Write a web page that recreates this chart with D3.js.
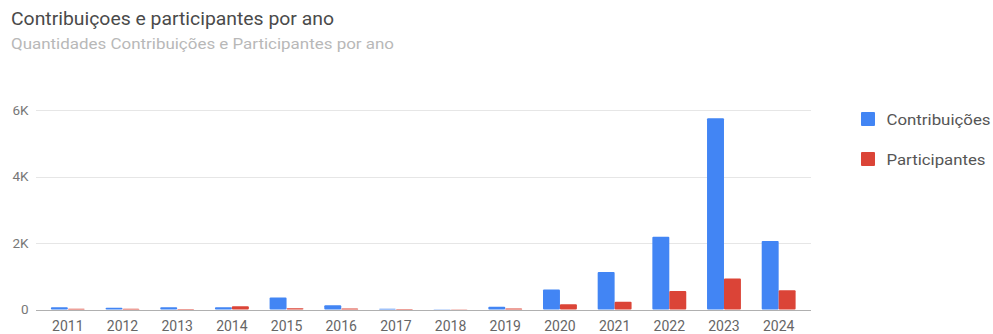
<!DOCTYPE html>
<html>
<head>
<meta charset="utf-8">
<script src="https://cdn.jsdelivr.net/npm/d3@7/dist/d3.min.js"></script>
<style>
  html, body { margin: 0; padding: 0; background: #fff; }
  svg { display: block; font-family: Roboto, Arial, sans-serif; }
</style>
</head>
<body>
<svg id="chart" width="993" height="334"></svg>
<script>
// Contribution and participant counts per year
const years = ["2011","2012","2013","2014","2015","2016","2017","2018","2019","2020","2021","2022","2023","2024"];
const contribuicoes = [70, 50, 65, 65, 360, 130, 25, 10, 80, 600, 1130, 2190, 5750, 2060];
const participantes = [25, 20, 15, 95, 40, 30, 15, 5, 30, 160, 230, 560, 935, 580];
const seriesNames = ["Contribuições", "Participantes"];
const seriesColors = ["#4285F4", "#DB4437"];
const yTicks = [0, 2000, 4000, 6000];
const yTickLabels = ["0", "2K", "4K", "6K"];

const svg = d3.select("#chart");

// Titles
svg.append("text").attr("x", 11).attr("y", 25)
  .attr("font-size", 17.5).attr("fill", "#4a4a4a")
  .attr("textLength", 323).attr("lengthAdjust", "spacingAndGlyphs")
  .text("Contribuiçoes e participantes por ano");
svg.append("text").attr("x", 11).attr("y", 49)
  .attr("font-size", 14).attr("fill", "#b8b8b8")
  .attr("textLength", 383).attr("lengthAdjust", "spacingAndGlyphs")
  .text("Quantidades Contribuições e Participantes por ano");

// Plot geometry
const plot = { left: 36, right: 811, top: 110, bottom: 309.5 };
const x0 = d3.scaleBand().domain(years).range([40.5, 806]).paddingInner(0.38).paddingOuter(0.19);
const x1 = d3.scaleBand().domain(seriesNames).range([0, x0.bandwidth()]);
const y = d3.scaleLinear().domain([0, 6000]).range([plot.bottom, plot.top]);

// Gridlines
svg.append("g").selectAll("line").data(yTicks).join("line")
  .attr("x1", plot.left).attr("x2", plot.right)
  .attr("y1", d => Math.round(y(d)) + 0.5).attr("y2", d => Math.round(y(d)) + 0.5)
  .attr("stroke", "#e6e6e6").attr("stroke-width", 1);

// Y tick labels
svg.append("g").selectAll("text").data(yTicks).join("text")
  .attr("x", 28.5).attr("y", d => y(d) + 4.5)
  .attr("text-anchor", "end").attr("font-size", 13.5).attr("fill", "#777")
  .text((d, i) => yTickLabels[i]);

// Bars
const rows = years.map((yr, i) => ({ year: yr, values: [contribuicoes[i], participantes[i]] }));
const groups = svg.append("g").selectAll("g").data(rows).join("g")
  .attr("transform", d => `translate(${x0(d.year)},0)`);
groups.selectAll("rect").data(d => d.values.map((v, k) => ({ v, k })))
  .join("rect")
  .attr("x", d => x1(seriesNames[d.k]))
  .attr("width", x1.bandwidth())
  .attr("y", d => y(d.v))
  .attr("height", d => y(0) - y(d.v))
  .attr("rx", 1)
  .attr("fill", d => seriesColors[d.k]);

// Baseline drawn over the bars
svg.append("line").attr("x1", plot.left).attr("x2", plot.right)
  .attr("y1", Math.round(y(0)) + 0.5).attr("y2", Math.round(y(0)) + 0.5)
  .attr("stroke", "#b0b0b0");

// X axis labels
svg.append("g").selectAll("text").data(years).join("text")
  .attr("x", d => x0(d) + x0.bandwidth() / 2).attr("y", 331)
  .attr("text-anchor", "middle").attr("font-size", 14).attr("fill", "#666")
  .text(d => d);

// Legend
const legend = svg.append("g").selectAll("g").data(seriesNames).join("g")
  .attr("transform", (d, i) => `translate(861,${112 + i * 40})`);
legend.append("rect").attr("width", 14).attr("height", 14).attr("rx", 1)
  .attr("fill", (d, i) => seriesColors[i]);
legend.append("text").attr("x", 25.5).attr("y", 13)
  .attr("font-size", 15).attr("fill", "#555")
  .attr("textLength", (d, i) => [104, 99][i]).attr("lengthAdjust", "spacingAndGlyphs")
  .text(d => d);
</script>
</body>
</html>
